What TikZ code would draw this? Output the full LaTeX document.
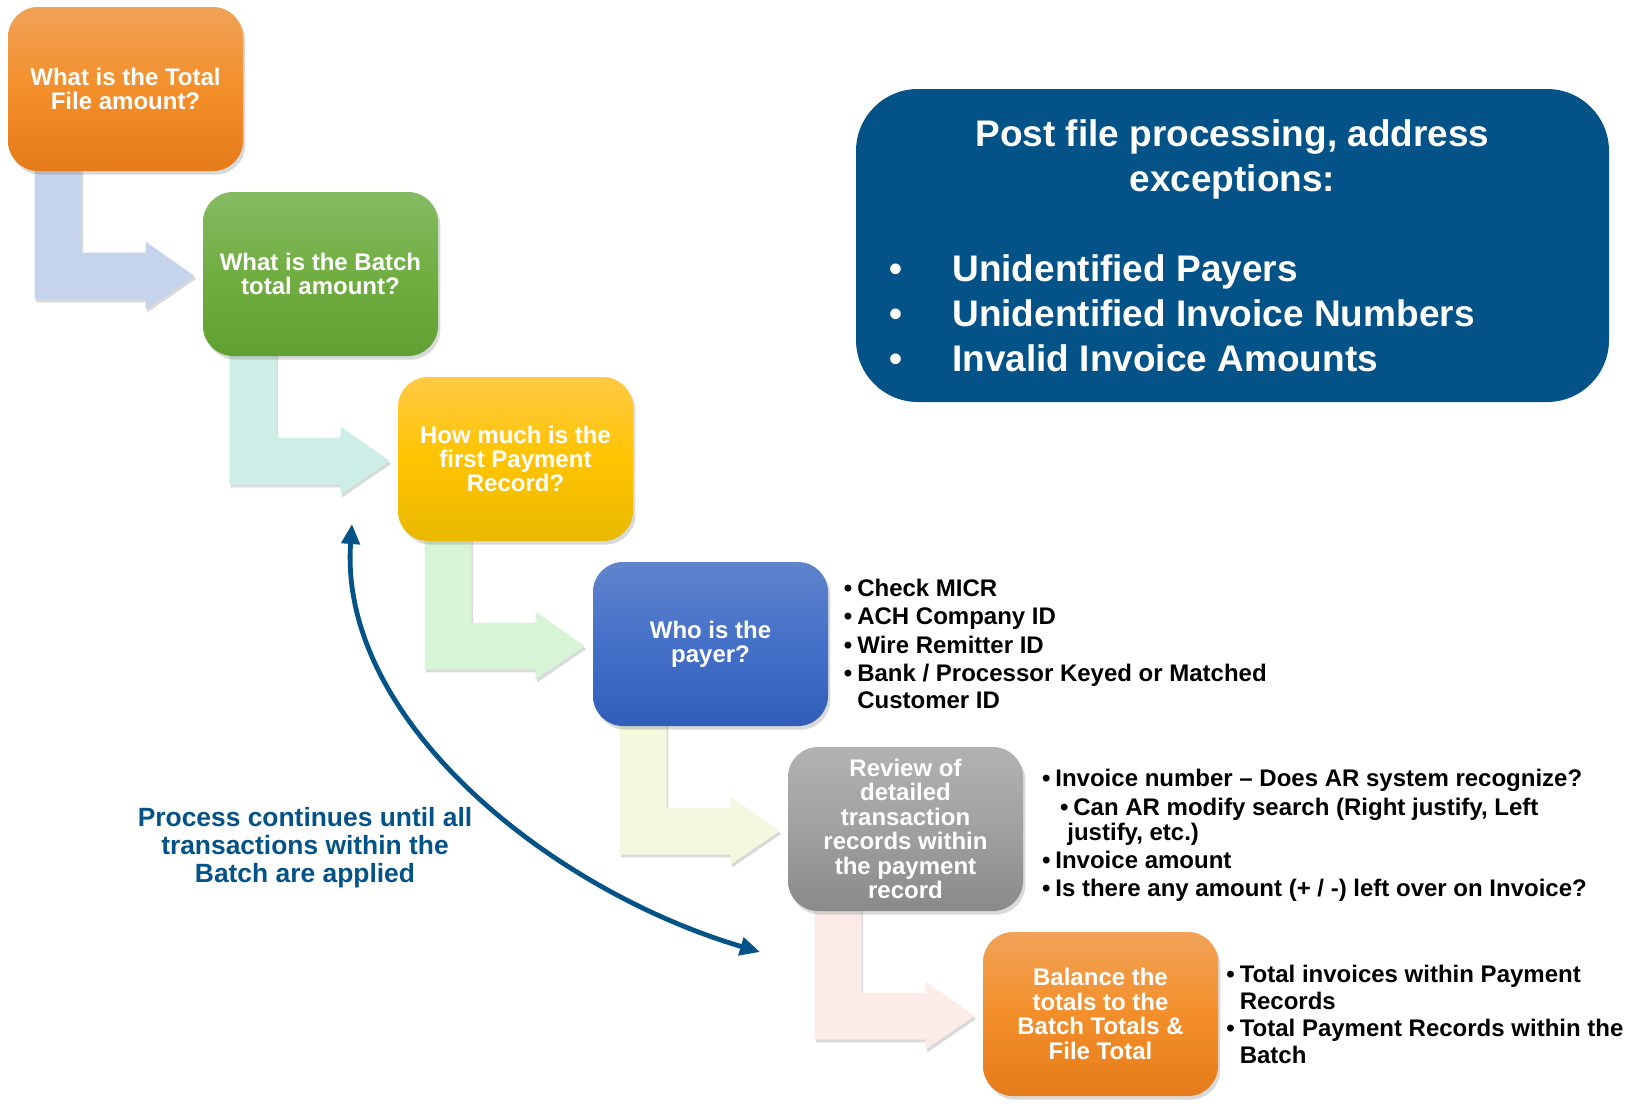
\documentclass[tikz,border=0pt]{standalone}
\usepackage{fontspec}
\setmainfont{Liberation Sans}
\usetikzlibrary{shadows,calc,arrows.meta,backgrounds}
\definecolor{orTop}{RGB}{241,162,88}
\definecolor{orMid}{RGB}{243,143,42}
\definecolor{orBot}{RGB}{229,123,26}
\definecolor{grTop}{RGB}{132,187,98}
\definecolor{grMid}{RGB}{113,174,66}
\definecolor{grBot}{RGB}{96,160,50}
\definecolor{yeTop}{RGB}{255,201,70}
\definecolor{yeMid}{RGB}{255,196,0}
\definecolor{yeBot}{RGB}{233,184,0}
\definecolor{blTop}{RGB}{96,132,205}
\definecolor{blMid}{RGB}{68,112,200}
\definecolor{blBot}{RGB}{48,94,184}
\definecolor{gyTop}{RGB}{178,178,178}
\definecolor{gyMid}{RGB}{160,160,160}
\definecolor{gyBot}{RGB}{138,138,138}
\definecolor{arA}{RGB}{197,212,234}
\definecolor{arB}{RGB}{205,238,230}
\definecolor{arC}{RGB}{215,244,214}
\definecolor{arD}{RGB}{243,248,222}
\definecolor{arE}{RGB}{251,236,232}
\definecolor{navy}{RGB}{3,82,136}

\newcommand\blockarrow[3]{%
  \fill[#3, arrowshadow]
    ($(#1.north west)+(27,150)$) -- ($(#1.north west)+(27,293)$)
    -- ($(#1.north west)+(138,293)$) -- ($(#1.north west)+(138,303)$)
    -- ($(#2.west)+(-8,2)$)
    -- ($(#1.north west)+(138,235)$) -- ($(#1.north west)+(138,246)$)
    -- ($(#1.north west)+(74,246)$) -- ($(#1.north west)+(74,150)$) -- cycle;}
\newcommand\bulmark{•\hspace{2.5pt}}

\begin{document}
\begin{tikzpicture}[x=0.5pt,y=-0.5pt,
  stepbox/.style={rounded corners=15pt, minimum width=117.5pt, minimum height=82pt,
    inner sep=0pt, align=center, text=white,
    font=\fontsize{12}{12.2}\selectfont\bfseries,
    drop shadow={shadow xshift=1.2pt,shadow yshift=-1.8pt,opacity=0.3}},
  arrowshadow/.style={drop shadow={shadow xshift=0.8pt,shadow yshift=-1.4pt,opacity=0.3}},
  bul/.style={anchor=base west, inner sep=0pt, align=left,
    font=\fontsize{12}{13.25}\selectfont\bfseries},
  bigbox/.style={fill=navy, rounded corners=31pt, minimum width=376.5pt,
    minimum height=156.5pt, inner sep=0pt},
  bigtext/.style={inner sep=0pt, text=white, font=\fontsize{18.5}{22.3}\selectfont\bfseries},
  loopnote/.style={inner sep=0pt, anchor=base, align=center, text=navy,
    font=\fontsize{13.2}{13.8}\selectfont\bfseries},
  loopline/.style={draw=navy, line width=2.4pt, >={Triangle[length=10pt,width=9pt]}, <->}
]
\useasboundingbox (0,0) rectangle (1633,1103);

% step boxes
\node[stepbox, top color=orTop, bottom color=orBot, middle color=orMid] (b1) at (125.5,89) {What is the Total\\File amount?};
\node[stepbox, top color=grTop, bottom color=grBot, middle color=grMid] (b2) at (320.5,274) {What is the Batch\\total amount?};
\node[stepbox, top color=yeTop, bottom color=yeBot, middle color=yeMid] (b3) at (515.5,459) {How much is the\\first Payment\\Record?};
\node[stepbox, top color=blTop, bottom color=blBot, middle color=blMid] (b4) at (710.5,644) {Who is the\\payer?};
\node[stepbox, top color=gyTop, bottom color=gyBot, middle color=gyMid] (b5) at (905.5,829) {Review of\\detailed\\transaction\\records within\\the payment\\record};
\node[stepbox, top color=orTop, bottom color=orBot, middle color=orMid] (b6) at (1100.5,1014) {Balance the\\totals to the\\Batch Totals \&\\File Total};

% block arrows behind the boxes
\begin{scope}[on background layer]
\blockarrow{b1}{b2}{arA}
\blockarrow{b2}{b3}{arB}
\blockarrow{b3}{b4}{arC}
\blockarrow{b4}{b5}{arD}
\blockarrow{b5}{b6}{arE}
\end{scope}

% exceptions box (multi-line nodes: base = last line)
\node[bigbox] (exc) at (1232.5,245.5) {};
\node[bigtext, anchor=base, align=center] (exctitle) at (1232.5,191) {Post file processing, address\\exceptions:};
\node[bigtext, anchor=base west, align=left] (exclist) at (889,371)
  {\makebox[31.5pt][l]{•}Unidentified Payers\\
   \makebox[31.5pt][l]{•}Unidentified Invoice Numbers\\
   \makebox[31.5pt][l]{•}Invalid Invoice Amounts};

% bullet lists
\node[bul] (p1) at (843.5,596) {\bulmark Check MICR};
\node[bul] (p2) at (843.5,624) {\bulmark ACH Company ID};
\node[bul] (p3) at (843.5,653) {\bulmark Wire Remitter ID};
\node[bul] (p4) at (843.5,708) {\bulmark Bank / Processor Keyed or Matched\\\hphantom{\bulmark}Customer ID};

\node[bul] (r1) at (1041.6,786) {\bulmark Invoice number – Does AR system recognize?};
\node[bul] (r2) at (1059.6,815) {\bulmark Can AR modify search (Right justify, Left};
\node[bul] (r2b) at (1067,840) {justify, etc.)};
\node[bul] (r3) at (1041.6,868) {\bulmark Invoice amount};
\node[bul] (r4) at (1041.6,896) {\bulmark Is there any amount (+ / -) left over on Invoice?};

\node[bul] (t1) at (1226,1009) {\bulmark Total invoices within Payment\\\hphantom{\bulmark}Records};
\node[bul] (t2) at (1226,1063) {\bulmark Total Payment Records within the\\\hphantom{\bulmark}Batch};

% loop note and loop connector
\node[loopnote] (note) at (305,882) {Process continues until all\\transactions within the\\Batch are applied};
\coordinate (loopTop) at (352,524);
\coordinate (loopEnd) at (760,952);
\draw[loopline] (loopTop) .. controls (338,720) and (550,890) .. (loopEnd);
\end{tikzpicture}
\end{document}
